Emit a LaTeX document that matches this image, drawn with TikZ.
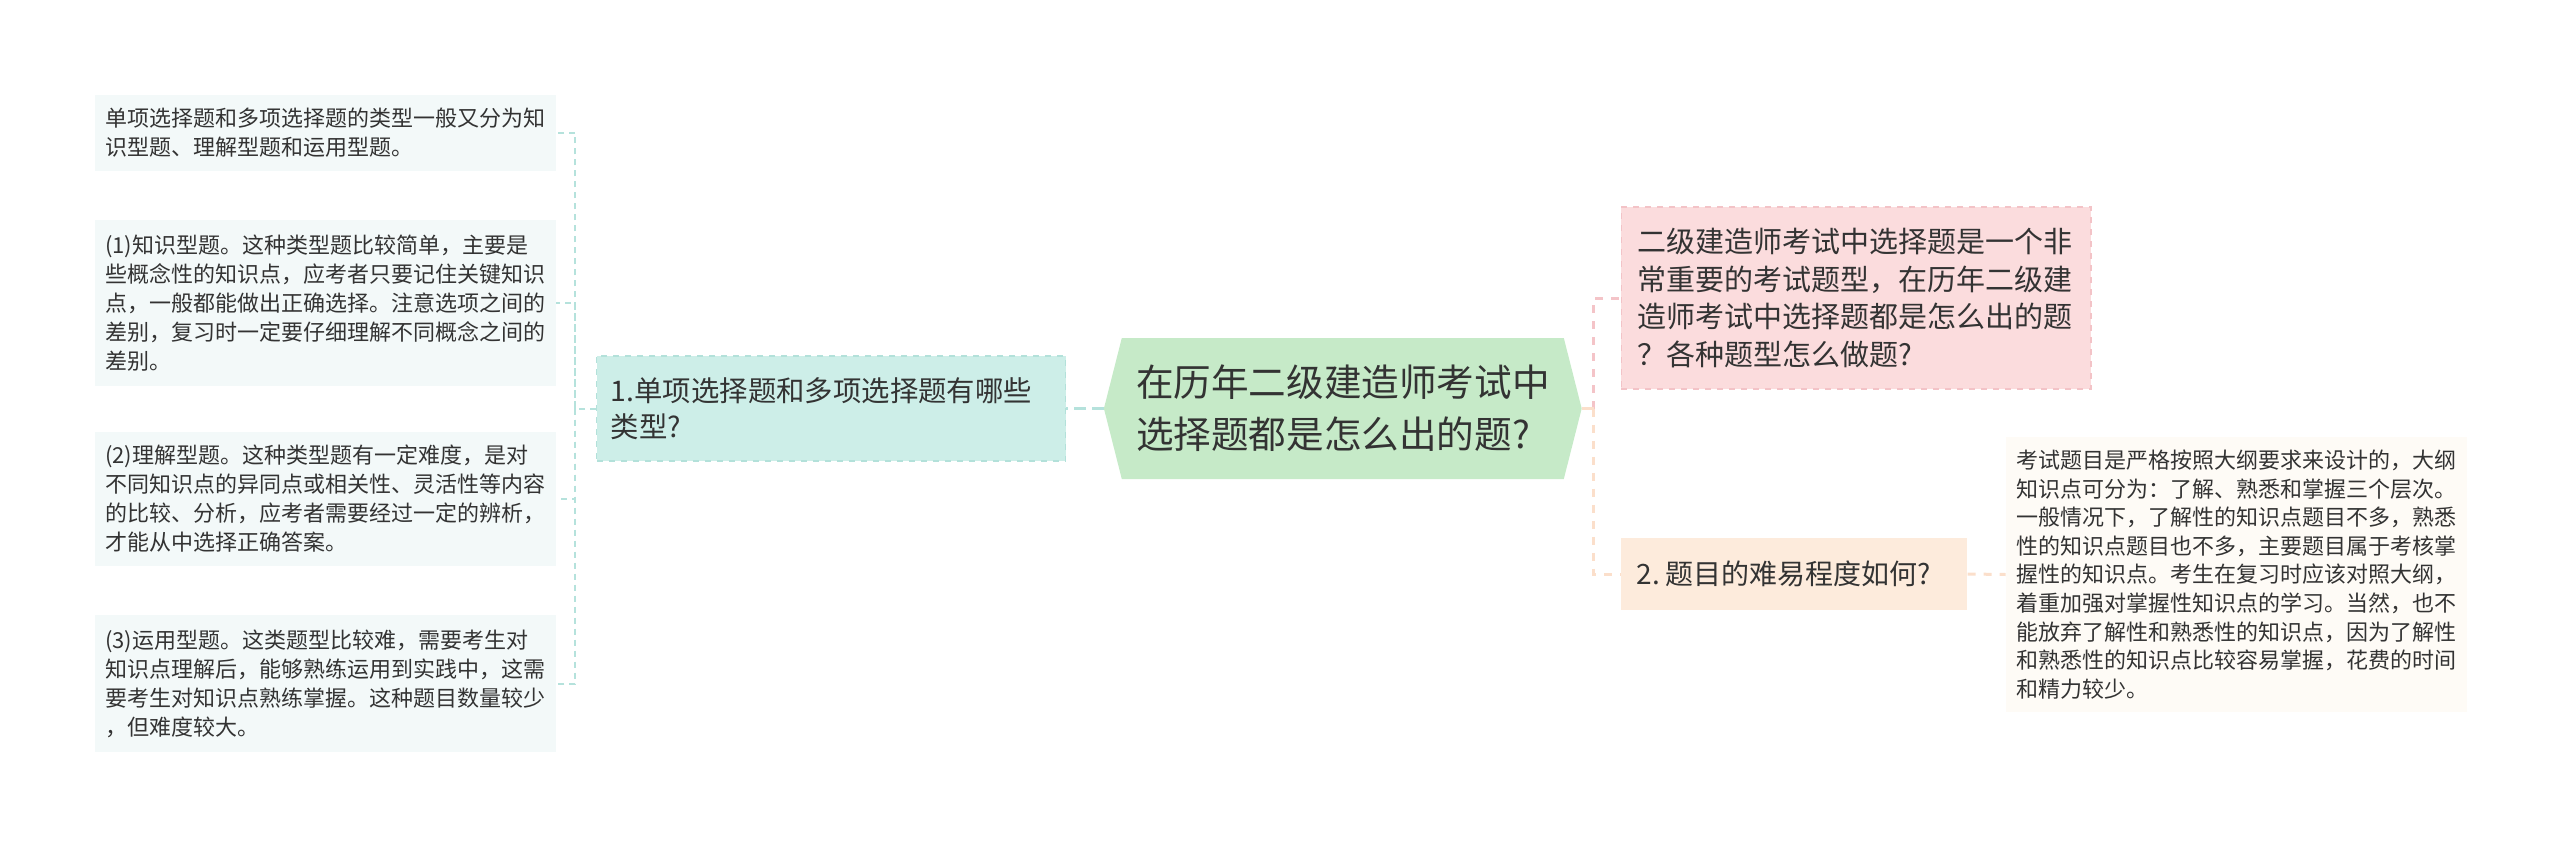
\documentclass[tikz,border=0pt]{standalone}
\usepackage{fontspec}
\setmainfont{Noto Sans CJK SC}
\definecolor{textc}{HTML}{333333}
\definecolor{leaffill}{HTML}{F3F9F9}
\definecolor{leafline}{HTML}{B5E2DC}
\definecolor{brfill}{HTML}{CDEEE8}
\definecolor{brborder}{HTML}{B3E1DA}
\definecolor{cfill}{HTML}{C6EAC8}
\definecolor{pinkfill}{HTML}{FBDCDD}
\definecolor{pinkborder}{HTML}{F3C3C7}
\definecolor{pinkline}{HTML}{F4C4C8}
\definecolor{peachfill}{HTML}{FDEBDC}
\definecolor{peachline}{HTML}{FBDFCB}
\definecolor{rtfill}{HTML}{FEFBF6}
\begin{document}
\begin{tikzpicture}[x=0.5pt,y=-0.5pt,
  txt/.style={text=textc, align=left, anchor=west, inner ysep=0pt},
  leaf/.style={txt, fill=leaffill, font=\fontsize{11}{14.5}\selectfont, inner xsep=5pt, minimum width=230.4pt, text width=220.4pt},
  lvlone/.style={txt, font=\fontsize{14}{18.5}\selectfont, inner xsep=8pt},
  leftcon/.style={draw=leafline, line width=1pt, dash pattern=on 3pt off 2.5pt},
  pinkcon/.style={draw=pinkline, line width=1.5pt, dash pattern=on 4pt off 4pt},
  peachcon/.style={draw=peachline, line width=1.5pt, dash pattern=on 4pt off 4pt}]
\useasboundingbox (0,0) rectangle (2560,841);

% left leaves
\node[leaf, minimum height=38pt] (b1) at (94.6,133) {单项选择题和多项选择题的类型一般又分为知\\识型题、理解型题和运用型题。};
\node[leaf, minimum height=83pt] (b2) at (94.6,303) {(1)知识型题。这种类型题比较简单，主要是\\些概念性的知识点，应考者只要记住关键知识\\点，一般都能做出正确选择。注意选项之间的\\差别，复习时一定要仔细理解不同概念之间的\\差别。};
\node[leaf, minimum height=67pt] (b3) at (94.6,499) {(2)理解型题。这种类型题有一定难度，是对\\不同知识点的异同点或相关性、灵活性等内容\\的比较、分析，应考者需要经过一定的辨析，\\才能从中选择正确答案。};
\node[leaf, minimum height=68.5pt] (b4) at (94.6,683.5) {(3)运用型题。这类题型比较难，需要考生对\\知识点理解后，能够熟练运用到实践中，这需\\要考生对知识点熟练掌握。这种题目数量较少\\，但难度较大。};

% branch 1
\node[lvlone, font=\fontsize{14.2}{18}\selectfont, fill=brfill, draw=brborder, dashed, line width=0.6pt, inner xsep=7pt, minimum width=234.4pt, text width=220.4pt, minimum height=52.5pt] (br) at (596.2,408.5) {1.单项选择题和多项选择题有哪些\\类型?};

% central
\fill[cfill] (1103.9,408.5) -- (1121.8,338) -- (1563.8,338) -- (1581.7,408.5) -- (1563.8,479) -- (1121.8,479) -- cycle;
\coordinate (cl) at (1103.9,408.5);
\coordinate (cr) at (1581.7,408.5);
\node[text=textc, align=left, font=\fontsize{18.8}{26}\selectfont, inner sep=0pt] (c) at (1342.8,408.5) {在历年二级建造师考试中\\选择题都是怎么出的题?};

% right level one
\node[lvlone, font=\fontsize{14.5}{18.9}\selectfont, fill=pinkfill, draw=pinkborder, dashed, line width=0.6pt, minimum width=234.9pt, text width=218.9pt, minimum height=91pt] (pk) at (1620.5,298) {二级建造师考试中选择题是一个非\\常重要的考试题型，在历年二级建\\造师考试中选择题都是怎么出的题\\？各种题型怎么做题?};
\node[lvlone, fill=peachfill, minimum width=173.2pt, text width=157.2pt, minimum height=36pt] (q2) at (1620.5,574) {2.\hspace{0.2em}题目的难易程度如何?};
\node[leaf, fill=rtfill, font=\fontsize{11}{14.3}\selectfont, minimum height=137.5pt] (rt) at (2005.7,574.5) {考试题目是严格按照大纲要求来设计的，大纲\\知识点可分为：了解、熟悉和掌握三个层次。\\一般情况下，了解性的知识点题目不多，熟悉\\性的知识点题目也不多，主要题目属于考核掌\\握性的知识点。考生在复习时应该对照大纲，\\着重加强对掌握性知识点的学习。当然，也不\\能放弃了解性和熟悉性的知识点，因为了解性\\和熟悉性的知识点比较容易掌握，花费的时间\\和精力较少。};

% connectors left
\coordinate (tl) at (575.3,408.5);
\draw[draw=leafline, line width=1.5pt, dash pattern=on 6pt off 3pt] (cl) -- (br.east);
\draw[leftcon] (br.west) -- (tl) |- (b1.east);
\draw[leftcon] (tl) |- (b2.east);
\draw[leftcon] (tl) |- (b3.east);
\draw[leftcon] (tl) |- (b4.east);

% connectors right
\coordinate (tr) at (1593.6,408.5);
\draw[pinkcon] (tr) |- (pk.west);
\draw[peachcon] (tr) |- (q2.west);
\draw[draw=peachline, line width=1.5pt] (cr) -- (tr);
\draw[peachcon] (q2.east) -- (rt.west);
\end{tikzpicture}
\end{document}
